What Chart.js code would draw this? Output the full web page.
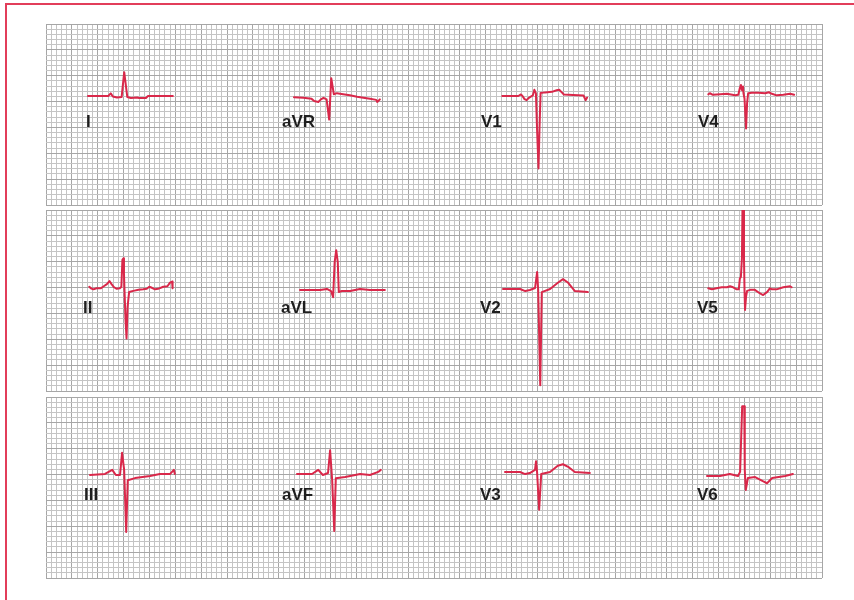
<!DOCTYPE html>
<html><head><meta charset="utf-8">
<script src="https://cdn.jsdelivr.net/npm/chart.js@4.4.1/dist/chart.umd.min.js"></script>
<style>
html,body{margin:0;padding:0;background:#fff;}
body{width:854px;height:600px;position:relative;overflow:hidden;font-family:"Liberation Sans",Arial,sans-serif;}
.fr{position:absolute;background:#e23d5a;}
canvas{position:absolute;}
.lbl{position:absolute;font-weight:bold;font-size:17px;line-height:17px;color:#1e1e1e;white-space:nowrap;}
</style></head>
<body>
<div class="fr" style="left:5px;top:3px;width:2px;height:600px;"></div>
<div class="fr" style="left:5px;top:3px;width:860px;height:2px;"></div>
<script>
// ---- data: each lead = [time (mm of paper from lead start), amplitude (mm above baseline)] ----
const leadNames = ['I','aVR','V1','V4','II','aVL','V2','V5','III','aVF','V3','V6'];
const lead_I   = [[0,0],[3.9,0],[4.4,0.5],[4.8,-0.1],[5.6,-0.3],[6.5,-0.2],[7.0,4.6],[7.6,-0.2],[8.3,-0.4],[9.5,-0.3],[9.9,-0.4],[11.2,-0.4],[11.6,0],[16.4,0]];
const lead_aVR = [[0,0],[1.8,-0.1],[3.4,-0.3],[3.9,-0.7],[4.7,-0.9],[5.2,-0.4],[5.7,-0.1],[6.3,-0.4],[6.8,-4.3],[7.2,3.7],[7.7,0.6],[8.3,0.8],[9.5,0.6],[10.8,0.4],[12.2,0.1],[13.4,-0.1],[14.7,-0.3],[15.9,-0.5],[16.1,-0.9],[16.6,-0.4]];
const lead_V1  = [[0,0],[3.1,0],[3.6,0.3],[3.9,0],[4.3,-0.6],[4.7,-0.8],[5.2,-0.3],[5.9,0.1],[6.2,1.2],[6.5,0.5],[6.7,-5.9],[7.0,-14.0],[7.2,-5.9],[7.4,0.6],[8.3,0.7],[9.6,0.8],[10.5,1.1],[11.0,1.2],[11.5,0.7],[11.9,0.3],[13.7,0.2],[15.7,0.1],[16.1,-0.8],[16.4,-0.3]];
const lead_V4  = [[0,0],[0.3,0.2],[0.9,-0.1],[2.3,0],[3.6,0.1],[4.1,0],[5.2,-0.2],[5.8,-0.1],[6.1,1.2],[6.3,1.8],[6.5,0.8],[6.7,1.5],[6.8,0.2],[7.0,-0.8],[7.3,-6.6],[7.5,-1.7],[7.7,0.2],[8.4,0.3],[9.7,0.3],[11.0,0.2],[11.7,0.4],[12.3,0.1],[13.2,-0.2],[14.5,-0.1],[15.8,0.1],[16.6,-0.1]];
const lead_II  = [[0,0.3],[0.3,0],[0.8,-0.2],[1.4,0],[2.2,0],[2.8,0.4],[3.4,0.8],[3.9,1.4],[4.3,0.8],[4.8,0.2],[5.3,-0.1],[5.9,0],[6.2,0.3],[6.4,5.5],[6.6,5.8],[6.7,2.9],[6.8,-0.3],[7.0,-6.1],[7.2,-9.7],[7.4,-3.6],[7.7,-0.7],[8.5,-0.5],[9.5,-0.3],[10.4,-0.2],[11.1,-0.1],[11.6,0.3],[12.1,0.1],[12.7,-0.2],[13.3,-0.1],[14.3,0.3],[15.1,0.4],[15.6,1.1],[16.0,1.3],[16.1,0]];
const lead_aVL = [[0,0],[3.9,0],[5.2,0.2],[6.0,-0.2],[6.4,-1.4],[6.7,5.4],[7.0,7.7],[7.3,5.4],[7.5,-0.4],[8.1,-0.2],[9.7,-0.2],[11.6,0.2],[13.5,0],[16.4,0]];
const lead_V2  = [[0,0],[3.3,0],[4.3,-0.4],[5.2,-0.2],[6.2,0.2],[6.6,3.3],[6.8,-0.2],[7.2,-18.6],[7.5,-0.6],[9.1,0],[10.6,1.2],[11.6,1.9],[12.6,1.2],[13.9,-0.4],[16.4,-0.6]];
const lead_V5  = [[0,0],[0.7,-0.2],[1.6,0],[2.6,0.2],[3.6,0.2],[4.2,0.4],[4.8,0.2],[5.5,-0.2],[5.9,-0.2],[6.1,1.9],[6.3,2.2],[6.5,5.8],[6.6,15.1],[6.8,15.1],[6.9,5.8],[7.0,-0.3],[7.1,-4.2],[7.3,-1.6],[7.5,-0.5],[8.1,-0.3],[9.0,-0.3],[10.0,-1.0],[10.6,-1.3],[11.4,-0.7],[11.9,0],[12.3,-0.2],[13.2,-0.2],[14.5,0.2],[15.8,0.4],[16.1,0.2]];
const lead_III = [[0,0],[2.9,0.2],[4.3,1.0],[5.0,0],[5.8,0],[6.2,4.3],[6.6,1.0],[7.0,-11.0],[7.3,-1.0],[8.7,-0.6],[11.6,-0.2],[13.5,0.2],[15.5,0.2],[16.2,1.0],[16.4,0.2]];
const lead_aVF = [[0,0],[2.9,0],[4.1,0.8],[5.0,-0.2],[6.0,0.2],[6.4,4.6],[6.8,-1.2],[7.2,-11.0],[7.5,-0.8],[9.3,-0.6],[12.2,0],[14.1,-0.2],[15.7,0.4],[16.2,0.8]];
const lead_V3  = [[0,0],[2.9,0],[3.9,-0.4],[4.8,-0.2],[5.8,0.4],[6.0,2.1],[6.2,0],[6.6,-7.3],[7.0,-0.4],[8.7,0],[10.2,1.2],[11.2,1.5],[12.2,1.0],[13.5,0],[16.4,-0.2]];
const lead_V6  = [[0,0],[2.5,0],[4.4,0.4],[6.0,0],[6.4,0.8],[6.8,13.5],[7.2,13.5],[7.3,1.2],[7.5,-2.7],[7.9,-0.4],[9.3,-0.2],[10.8,-1.0],[11.6,-1.4],[12.6,-0.4],[15.1,0],[16.6,0.4]];
const leadData = [lead_I,lead_aVR,lead_V1,lead_V4,lead_II,lead_aVL,lead_V2,lead_V5,lead_III,lead_aVF,lead_V3,lead_V6];
const paperWidthMm = 150, paperHeightMm = 35;

// ---- layout (pixels) ----
const PANEL_LEFT = 46, PANEL_W = 776, PANEL_H = 181;
const panelTops = [24, 210, 397];
const leadStartPx = [88,294,502.3,708.3, 89.3,300,503,708.3, 90,297,505,707];
const leadBasePx  = [96,97.3,96,94.3, 288.3,290,289,288.3, 475,474,472,476];
const labelPos = [[86,127],[282,127],[481,127],[698,127],[83,313.5],[281,313.5],[480,313.5],[697,313.5],[84,500],[282,500],[480,500],[697,500]];
const TRACE = '#d9284a';
const pxX = PANEL_W / paperWidthMm, pxY = PANEL_H / paperHeightMm;

for (let p = 0; p < 3; p++) {
  const cv = document.createElement('canvas');
  cv.width = PANEL_W + 2; cv.height = PANEL_H + 2;
  cv.style.left = (PANEL_LEFT - 1) + 'px'; cv.style.top = (panelTops[p] - 1) + 'px';
  cv.style.width = cv.width + 'px'; cv.style.height = cv.height + 'px';
  document.body.appendChild(cv);
  const datasets = [];
  for (let k = 0; k < 4; k++) {
    const i = p * 4 + k;
    const x0 = (leadStartPx[i] - PANEL_LEFT) / pxX;
    const y0 = (panelTops[p] + PANEL_H - leadBasePx[i]) / pxY;
    datasets.push({
      label: leadNames[i],
      data: leadData[i].map(d => ({x: x0 + d[0], y: y0 + d[1]})),
      borderColor: TRACE, borderWidth: 2, pointRadius: 0, tension: 0,
      borderJoinStyle: 'round', borderCapStyle: 'round', fill: false
    });
  }
  const gridColor = c => (Math.round(c.tick.value) % 5 === 0 ? '#a6a6a6' : '#c4c4c4');
  new Chart(cv, {
    type: 'line',
    data: {datasets},
    options: {
      responsive: false, animation: false, devicePixelRatio: 1,
      layout: {padding: 1},
      plugins: {legend: {display: false}, tooltip: {enabled: false}},
      scales: {
        x: {type: 'linear', min: 0, max: paperWidthMm,
            ticks: {display: false, stepSize: 1, autoSkip: false},
            grid: {color: gridColor, lineWidth: 1, drawTicks: false},
            border: {display: false}},
        y: {type: 'linear', min: 0, max: paperHeightMm,
            ticks: {display: false, stepSize: 1, autoSkip: false},
            grid: {color: gridColor, lineWidth: 1, drawTicks: false},
            border: {display: false}}
      }
    }
  });
}
leadNames.forEach((n, i) => {
  const d = document.createElement('div');
  d.className = 'lbl'; d.textContent = n;
  d.style.left = labelPos[i][0] + 'px';
  d.style.top = (labelPos[i][1] - 14.4) + 'px';
  document.body.appendChild(d);
});
</script>
</body></html>
